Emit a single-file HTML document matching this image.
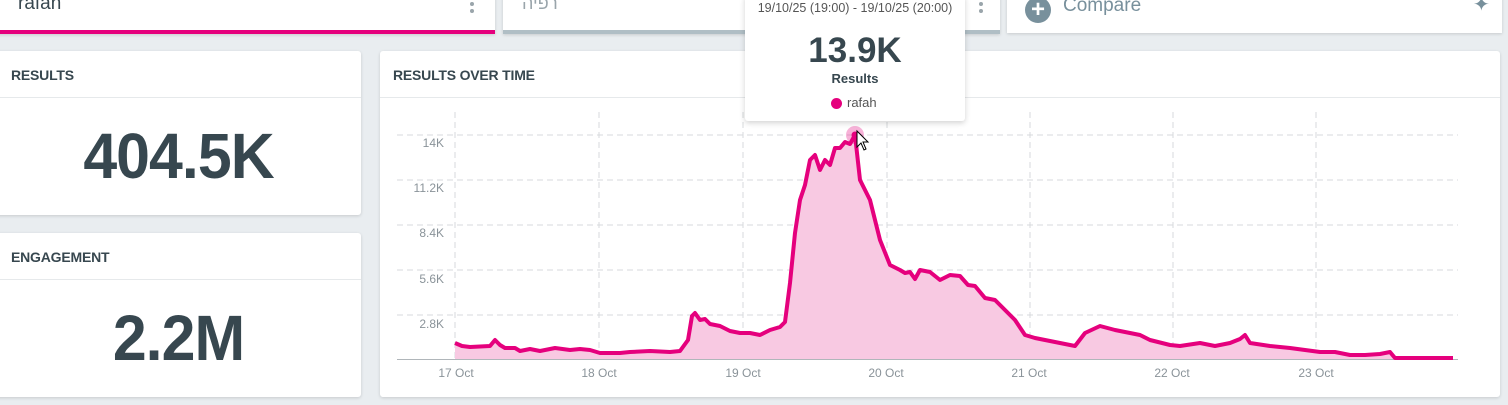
<!DOCTYPE html>
<html><head><meta charset="utf-8"><style>
body{margin:0;width:1508px;height:405px;background:#e9edf0;position:relative;overflow:hidden;font-family:"Liberation Sans","Noto Sans CJK SC",sans-serif;color:#37474f}
.card{position:absolute;background:#fff;box-shadow:0 1px 3px rgba(0,0,0,.15);border-radius:3px}
.hd{position:absolute;left:11px;top:16px;font-size:14px;font-weight:bold;color:#37474f;letter-spacing:-.2px}
.sep{position:absolute;left:0;right:0;top:46px;border-top:1px solid #e6e9eb}
.big{position:absolute;left:0;right:0;text-align:center;font-weight:bold;font-size:64px;color:#37474f;letter-spacing:-1px;transform:scaleX(.95)}
</style></head><body>
<div class="card" style="left:-4px;top:-10px;width:499px;height:40px;border-bottom:4px solid #e5007d;border-radius:0">
 <div style="position:absolute;left:22px;top:3px;font-size:19px;color:#37474f">rafah</div>
 <div style="position:absolute;left:474px;top:12px;width:4px;height:4px;border-radius:50%;background:#9aa5ab;box-shadow:0 7px 0 #9aa5ab"></div>
</div>
<div class="card" style="left:503px;top:-10px;width:497px;height:40px;border-bottom:4px solid #b0bec5;border-radius:0">
 <div style="position:absolute;left:19px;top:3px;font-size:18px;color:#9aa5ab">רפיה</div>
 <div style="position:absolute;left:476px;top:12px;width:4px;height:4px;border-radius:50%;background:#9aa5ab;box-shadow:0 7px 0 #9aa5ab"></div>
</div>
<div class="card" style="left:1007px;top:-10px;width:495px;height:43px;border-radius:0">
 <div style="position:absolute;left:18px;top:7px;width:26px;height:26px;border-radius:50%;background:#78909c;color:#fff;font-size:24px;font-weight:bold;line-height:26px;text-align:center">+</div>
 <div style="position:absolute;left:56px;top:5px;font-size:19px;color:#78909c">Compare</div>
 <div style="position:absolute;left:466px;top:2px;font-size:20px;color:#78909c">✦</div>
</div>

<div class="card" style="left:-4px;top:51px;width:365px;height:164px">
 <div class="hd" style="left:15px">RESULTS</div><div class="sep"></div>
 <div class="big" style="top:68px">404.5K</div>
</div>
<div class="card" style="left:-4px;top:233px;width:365px;height:164px">
 <div class="hd" style="left:15px">ENGAGEMENT</div><div class="sep"></div>
 <div class="big" style="top:68px">2.2M</div>
</div>
<div class="card" style="left:380px;top:51px;width:1120px;height:346px">
 <div class="hd" style="left:13px">RESULTS OVER TIME</div><div class="sep"></div>
</div>

<svg style="position:absolute;left:0;top:0" width="1508" height="405">
<g stroke="#d7dadc" stroke-dasharray="6,4" stroke-width="1">
<line x1="397" x2="1458" y1="135" y2="135"/><line x1="397" x2="1458" y1="180" y2="180"/><line x1="397" x2="1458" y1="225" y2="225"/><line x1="397" x2="1458" y1="270" y2="270"/><line x1="397" x2="1458" y1="315" y2="315"/>
<line x1="455" x2="455" y1="112" y2="360"/><line x1="599" x2="599" y1="112" y2="360"/><line x1="743" x2="743" y1="112" y2="360"/><line x1="887" x2="887" y1="112" y2="360"/><line x1="1030" x2="1030" y1="112" y2="360"/><line x1="1173" x2="1173" y1="112" y2="360"/><line x1="1316" x2="1316" y1="112" y2="360"/>
</g>
<line x1="397" x2="1458" y1="359.5" y2="359.5" stroke="#b0b6ba"/>
<g font-size="12" fill="#8a9399" text-anchor="end" font-family="Liberation Sans,sans-serif">
<text x="444" y="147">14K</text><text x="444" y="192">11.2K</text><text x="444" y="237">8.4K</text><text x="444" y="283">5.6K</text><text x="444" y="328">2.8K</text>
</g>
<g font-size="12" fill="#8a9399" text-anchor="middle" font-family="Liberation Sans,sans-serif">
<text x="456" y="377">17 Oct</text><text x="599" y="377">18 Oct</text><text x="743" y="377">19 Oct</text><text x="886" y="377">20 Oct</text><text x="1029" y="377">21 Oct</text><text x="1172" y="377">22 Oct</text><text x="1316" y="377">23 Oct</text>
</g>
<path fill="#f8c9e2" d="M455,359 L455,343 462,346 470,347 490,346 495,340 500,345 505,348 515,348 520,351 530,349 540,351 555,348 570,350 580,349 590,350 600,353 610,353 620,353 630,352 650,351 670,352 680,351 688,340 692,316 695,313 700,320 705,319 710,324 720,326 730,331 740,333 750,333 760,335 770,330 780,327 785,322 790,283 795,233 800,200 805,185 810,160 815,155 820,170 825,160 830,165 835,148 840,148 845,142 850,144 855,135 860,180 870,200 880,240 890,265 900,270 905,273 910,272 915,279 920,270 930,272 940,280 950,275 960,276 968,285 975,286 985,298 995,300 1005,310 1015,320 1025,335 1035,338 1045,340 1060,343 1075,346 1085,333 1100,326 1115,330 1130,333 1140,335 1150,340 1170,345 1180,346 1200,343 1215,346 1230,343 1240,339 1245,335 1250,343 1270,346 1290,348 1305,350 1320,352 1335,352 1350,355 1365,355 1380,354 1390,352 1395,358 1453,358 L1453,359 Z"/>
<path fill="none" stroke="#e5007d" stroke-width="4" stroke-linejoin="round" d="M455,343 462,346 470,347 490,346 495,340 500,345 505,348 515,348 520,351 530,349 540,351 555,348 570,350 580,349 590,350 600,353 610,353 620,353 630,352 650,351 670,352 680,351 688,340 692,316 695,313 700,320 705,319 710,324 720,326 730,331 740,333 750,333 760,335 770,330 780,327 785,322 790,283 795,233 800,200 805,185 810,160 815,155 820,170 825,160 830,165 835,148 840,148 845,142 850,144 855,135 860,180 870,200 880,240 890,265 900,270 905,273 910,272 915,279 920,270 930,272 940,280 950,275 960,276 968,285 975,286 985,298 995,300 1005,310 1015,320 1025,335 1035,338 1045,340 1060,343 1075,346 1085,333 1100,326 1115,330 1130,333 1140,335 1150,340 1170,345 1180,346 1200,343 1215,346 1230,343 1240,339 1245,335 1250,343 1270,346 1290,348 1305,350 1320,352 1335,352 1350,355 1365,355 1380,354 1390,352 1395,358 1453,358"/>
<circle cx="855" cy="135" r="9" fill="#e5007d" opacity=".3"/>
<circle cx="855" cy="135" r="3.5" fill="#e5007d"/>
<path d="M857,131 L857,147 861,143 864,150 866,149 863,142 868,142 Z" fill="#fff" stroke="#000" stroke-width="1"/>
</svg>

<div class="card" style="left:745px;top:-5px;width:220px;height:126px;box-shadow:0 2px 6px rgba(0,0,0,.18)">
 <div style="position:absolute;left:0;right:0;top:6px;text-align:center;font-size:12.5px;color:#555">19/10/25 (19:00) - 19/10/25 (20:00)</div>
 <div style="position:absolute;left:0;right:0;top:36px;text-align:center;font-size:35px;font-weight:bold;color:#37474f">13.9K</div>
 <div style="position:absolute;left:0;right:0;top:76px;text-align:center;font-size:13px;font-weight:bold;color:#37474f">Results</div>
 <div style="position:absolute;left:86px;top:103px;width:11px;height:11px;border-radius:50%;background:#e5007d"></div>
 <div style="position:absolute;left:102px;top:100px;font-size:13px;color:#555">rafah</div>
</div>
</body></html>
